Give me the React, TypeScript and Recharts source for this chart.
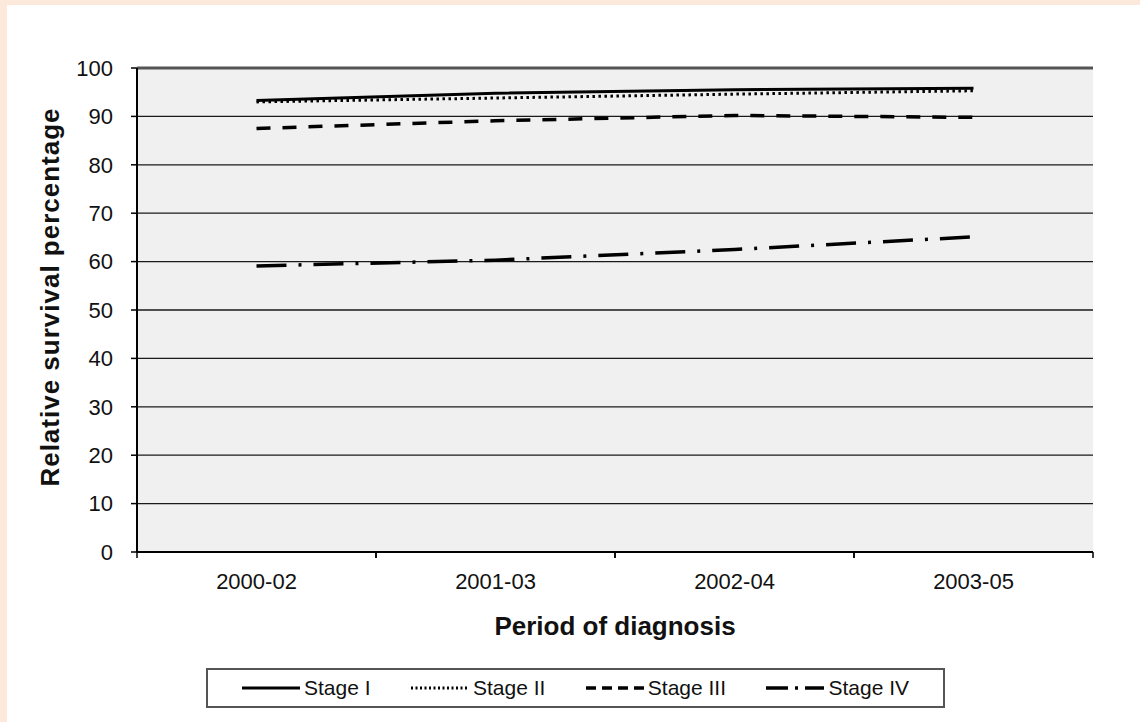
import React from 'react';
import {
  LineChart,
  Line,
  XAxis,
  YAxis,
  CartesianGrid,
  Legend,
  ReferenceLine,
} from 'recharts';

const periods = ['2000-02', '2001-03', '2002-04', '2003-05'];
const stageI = [93.3, 94.8, 95.5, 95.8];
const stageII = [93.0, 93.8, 94.6, 95.3];
const stageIII = [87.5, 89.1, 90.2, 89.8];
const stageIV = [59.1, 60.3, 62.5, 65.1];
const yTicks = [0, 10, 20, 30, 40, 50, 60, 70, 80, 90, 100];

const FONT = '"Liberation Sans", Arial, sans-serif';

const SERIES = [
  { key: 'stageI', name: 'Stage I', dash: undefined, width: 3 },
  { key: 'stageII', name: 'Stage II', dash: '2.5 3.5', width: 3 },
  { key: 'stageIII', name: 'Stage III', dash: '14 12', width: 3.5 },
  { key: 'stageIV', name: 'Stage IV', dash: '30 12 3 12', width: 3.5 },
];

const data = periods.map((period, i) => ({
  period,
  stageI: stageI[i],
  stageII: stageII[i],
  stageIII: stageIII[i],
  stageIV: stageIV[i],
}));

const TICK_SIZE = 6;
const TICK_MARGIN = 15;

// category label centred in its band, tick marks on the band edges
function PeriodTick(props: any) {
  const { x, y, payload, width } = props;
  const half = (width || 956) / (periods.length * 2);
  const top = y - TICK_SIZE - TICK_MARGIN;
  return (
    <g>
      <line x1={x - half} x2={x - half} y1={top} y2={top + TICK_SIZE} stroke="#000" strokeWidth={1.5} />
      <line x1={x + half} x2={x + half} y1={top} y2={top + TICK_SIZE} stroke="#000" strokeWidth={1.5} />
      <text x={x} y={y} dy="0.71em" textAnchor="middle" fontSize={22} fontFamily={FONT} fill="#111">
        {payload.value}
      </text>
    </g>
  );
}

function StageLegend() {
  // dash patterns are shrunk a bit so a few repeats fit in the short sample
  const sample: Record<string, string | undefined> = {
    stageI: undefined,
    stageII: '2 2.5',
    stageIII: '10 6',
    stageIV: '22 7 3 7',
  };
  return (
    <div
      style={{
        display: 'flex',
        alignItems: 'center',
        justifyContent: 'space-between',
        width: 739,
        height: 40,
        boxSizing: 'border-box',
        border: '2px solid #555',
        padding: '0 34px',
        background: '#fff',
        fontFamily: FONT,
      }}
    >
      {SERIES.map(s => (
        <span key={s.key} style={{ display: 'flex', alignItems: 'center' }}>
          <svg width={58} height={10}>
            <line
              x1={0}
              x2={58}
              y1={5}
              y2={5}
              stroke="#000"
              strokeWidth={s.width}
              strokeDasharray={sample[s.key]}
            />
          </svg>
          <span style={{ fontSize: 21, marginLeft: 4, color: '#111' }}>{s.name}</span>
        </span>
      ))}
    </div>
  );
}

export default function App() {
  return (
    <div
      style={{
        position: 'absolute',
        left: 0,
        top: 0,
        width: 1140,
        height: 722,
        background: '#FDE9DB',
      }}
    >
      <div style={{ position: 'absolute', left: 7, top: 5, width: 1133, height: 717, background: '#fff' }}>
        <LineChart width={1133} height={717} data={data} margin={{ top: 63, right: 47, left: 60, bottom: 90 }}>
          <CartesianGrid horizontal vertical={false} stroke="#1a1a1a" strokeWidth={1.3} fill="#F0F0F0" />
          <XAxis
            dataKey="period"
            height={40}
            padding={{ left: 119.5, right: 119.5 }}
            axisLine={{ stroke: '#000', strokeWidth: 2 }}
            tickLine={false}
            tickSize={TICK_SIZE}
            tickMargin={TICK_MARGIN}
            tick={<PeriodTick />}
            interval={0}
            label={({ viewBox }: any) => (
              <text
                x={viewBox.x + viewBox.width / 2}
                y={viewBox.y + 83}
                textAnchor="middle"
                fontSize={26}
                fontWeight="bold"
                fontFamily={FONT}
                fill="#111"
              >
                Period of diagnosis
              </text>
            )}
          />
          <YAxis
            width={70}
            domain={[0, 100]}
            ticks={yTicks}
            interval={0}
            axisLine={{ stroke: '#000', strokeWidth: 2 }}
            tickLine={{ stroke: '#000', strokeWidth: 1.5 }}
            tickSize={6}
            tickMargin={18}
            tick={{ fontSize: 22, fontFamily: FONT, fill: '#111' }}
            label={({ viewBox }: any) => (
              <text
                x={viewBox.x - 17}
                y={292}
                transform={`rotate(-90 ${viewBox.x - 17} 292)`}
                textAnchor="middle"
                dominantBaseline="central"
                fontSize={26}
                fontWeight="bold"
                fontFamily={FONT}
                letterSpacing={1}
                fill="#111"
              >
                Relative survival percentage
              </text>
            )}
          />
          <YAxis
            yAxisId="frame"
            orientation="right"
            width={0}
            domain={[0, 100]}
            tick={false}
            tickLine={false}
            axisLine={{ stroke: '#555', strokeWidth: 3 }}
          />
          <ReferenceLine y={100} stroke="#555" strokeWidth={3} />
          {SERIES.map(s => (
            <Line
              key={s.key}
              dataKey={s.key}
              name={s.name}
              stroke="#000"
              strokeWidth={s.width}
              strokeDasharray={s.dash}
              dot={false}
              activeDot={false}
              isAnimationActive={false}
            />
          ))}
          <Legend
            verticalAlign="bottom"
            content={<StageLegend />}
            wrapperStyle={{ left: 199, top: 663, bottom: 'auto', width: 'auto' }}
          />
        </LineChart>
      </div>
    </div>
  );
}
